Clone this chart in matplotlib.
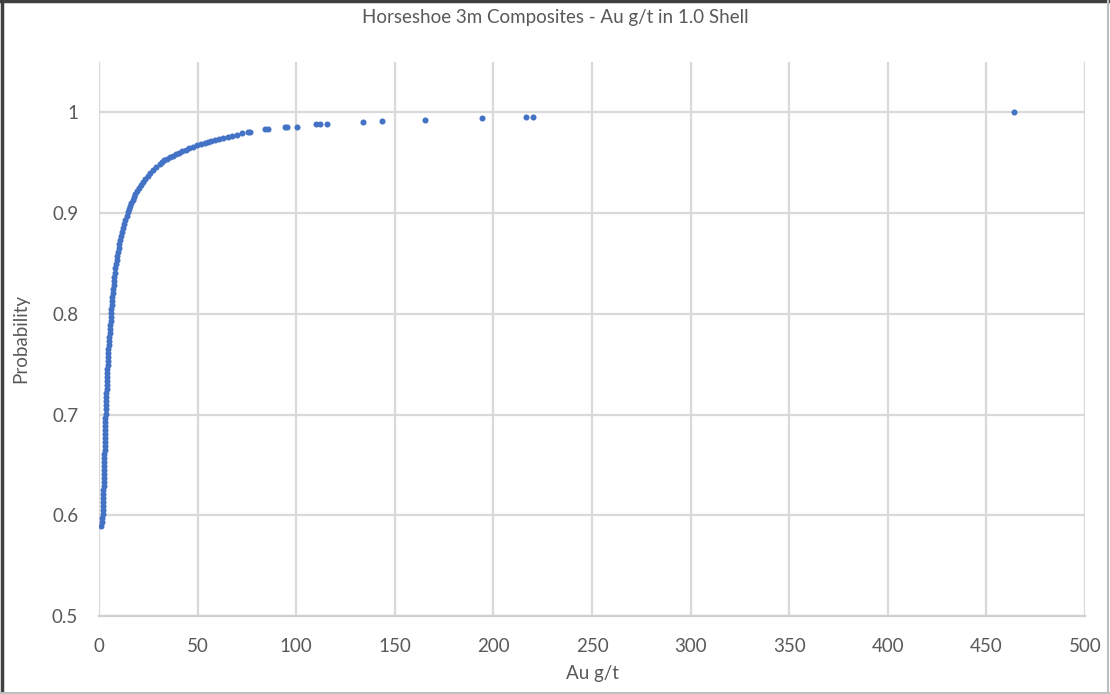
import matplotlib
matplotlib.use("Agg")
import matplotlib.pyplot as plt
from matplotlib.lines import Line2D

# Au grade (g/t) and cumulative probability
au_gt = [
    1.2, 1.4, 1.6, 1.8, 1.9, 2.0, 2.0, 2.1, 2.1, 2.2, 2.3, 2.3, 2.4, 2.5, 2.5,
    2.6, 2.6, 2.7, 2.7, 2.8, 2.8, 2.9, 2.9, 3.0, 3.0, 3.1, 3.2, 3.2, 3.3,
    3.4, 3.5, 3.6, 3.6, 3.7, 3.8, 3.9, 4.0, 4.1, 4.2, 4.3, 4.4, 4.5, 4.6, 4.7,
    4.8, 5.0, 5.1, 5.3, 5.4, 5.6, 5.7, 5.9, 6.0, 6.1,
    6.3, 6.5, 6.6, 6.8, 7.0, 7.2, 7.4, 7.6, 7.8, 8.1, 8.3, 8.6, 8.9, 9.2, 9.5,
    9.9, 10.3, 10.8, 11.2, 11.7, 12.2, 12.8, 13.4, 14.0, 14.6,
    15.2, 15.8, 16.3, 17.0, 17.8, 18.5, 19.4, 20.3, 21.3, 22.4, 23.5, 24.7,
    26.0, 27.5, 29.0, 30.8, 32.0,
    33.2, 34.5, 36.0, 37.5, 39.0, 40.5, 42.2, 44.0, 45.8, 47.5, 49.5, 51.5,
    53.5, 55.5, 57.0, 59.0, 61.0, 63.0, 65.5, 67.5, 70.0, 72.5, 75.5, 76.5,
    84.2, 85.9, 94.3, 95.5, 100.6, 110.0, 112.1, 115.8, 133.7, 143.3, 165.3,
    194.4, 216.5, 219.9, 464.0,
]
probability = [
    0.589, 0.593, 0.597, 0.601, 0.605, 0.609, 0.613, 0.617, 0.621, 0.625,
    0.629, 0.633, 0.637, 0.641, 0.645, 0.649, 0.653, 0.657, 0.661, 0.665,
    0.669, 0.673, 0.677, 0.681, 0.685, 0.689, 0.693, 0.697, 0.701,
    0.705, 0.709, 0.713, 0.717, 0.721, 0.725, 0.729, 0.733, 0.737, 0.741,
    0.745, 0.749, 0.753, 0.757, 0.761, 0.765, 0.769, 0.773, 0.777, 0.781,
    0.785, 0.789, 0.793, 0.797, 0.801,
    0.805, 0.809, 0.813, 0.817, 0.821, 0.825, 0.829, 0.833, 0.837, 0.841,
    0.845, 0.849, 0.853, 0.857, 0.861, 0.865, 0.869, 0.873, 0.877, 0.881,
    0.885, 0.889, 0.893, 0.897, 0.901,
    0.904, 0.907, 0.910, 0.913, 0.916, 0.919, 0.922, 0.925, 0.928, 0.931,
    0.934, 0.937, 0.940, 0.943, 0.946, 0.949, 0.951,
    0.9525, 0.954, 0.9555, 0.957, 0.9585, 0.960, 0.9615, 0.963, 0.9645,
    0.966, 0.9675, 0.969, 0.970, 0.971, 0.972, 0.973, 0.974, 0.975, 0.976,
    0.977, 0.978, 0.979, 0.980, 0.9805,
    0.9830, 0.9830, 0.9850, 0.9856, 0.9858, 0.9880, 0.9880, 0.9880, 0.9905,
    0.9913, 0.9926, 0.9940, 0.9953, 0.9953, 1.0000,
]

x_ticks = [0, 50, 100, 150, 200, 250, 300, 350, 400, 450, 500]
y_ticks = [0.5, 0.6, 0.7, 0.8, 0.9, 1.0]
y_tick_labels = ["0.5", "0.6", "0.7", "0.8", "0.9", "1"]

title = "Horseshoe 3m Composites - Au g/t in 1.0 Shell"
text_grey = "#595959"
grid_grey = "#d9d9d9"

plt.rcParams["font.family"] = ["Lato", "DejaVu Sans"]

fig = plt.figure(figsize=(11.1, 6.94), dpi=100)
ax = fig.add_axes([0.0892, 0.1124, 0.8883, 0.7983])

ax.scatter(au_gt, probability, s=19, color="#4472c4", linewidths=0, zorder=3)

ax.set_xlim(0, 500)
ax.set_ylim(0.5, 1.05)
ax.set_xticks(x_ticks)
ax.set_yticks(y_ticks)
ax.set_yticklabels(y_tick_labels)
ax.grid(True, color=grid_grey, linewidth=1.6, zorder=0)
ax.set_axisbelow(True)
for side in ["top", "right", "left"]:
    ax.spines[side].set_visible(False)
ax.spines["bottom"].set_color("#cfcfcf")
ax.spines["bottom"].set_linewidth(1.6)
ax.tick_params(length=0, labelsize=13.5, labelcolor=text_grey)
ax.tick_params(axis="x", pad=16)
ax.tick_params(axis="y", pad=15)

ax.set_xlabel("Au g/t", fontsize=13.5, color=text_grey, labelpad=7)
ax.set_ylabel("Probability", fontsize=13.5, color=text_grey, labelpad=16)
fig.text(0.5, 0.975, title, ha="center", va="center", fontsize=13.5,
         color=text_grey)

# chart frame
fig.add_artist(Line2D([0.002, 0.002], [0, 1], color="#404040", linewidth=2.5,
                      transform=fig.transFigure))
fig.add_artist(Line2D([0, 1], [0.998, 0.998], color="#404040", linewidth=2.5,
                      transform=fig.transFigure))
fig.add_artist(Line2D([0.998, 0.998], [0, 1], color="#bfbfbf", linewidth=1.5,
                      transform=fig.transFigure))
fig.add_artist(Line2D([0, 1], [0.002, 0.002], color="#bfbfbf", linewidth=1.5,
                      transform=fig.transFigure))

fig.savefig("out.png", dpi=100)
